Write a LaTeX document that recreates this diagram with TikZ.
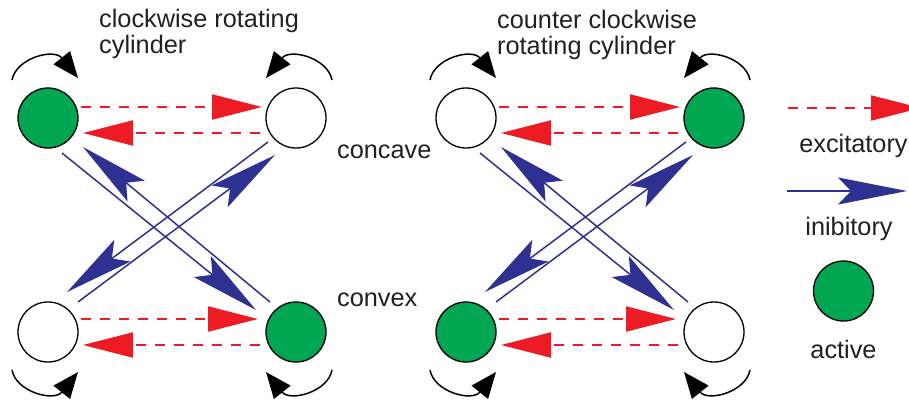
\documentclass[tikz,border=0pt]{standalone}
\usepackage{fontspec}
\setmainfont{Liberation Sans}
\usetikzlibrary{arrows.meta,calc}
\definecolor{ink}{HTML}{231F20}
\definecolor{exred}{HTML}{ED1C24}
\definecolor{inblue}{HTML}{2E3192}
\definecolor{actgreen}{HTML}{00A651}
\begin{document}
\begin{tikzpicture}[x=1pt,y=-1pt,
  cyl/.style={circle,draw=black,line width=1.3pt,minimum size=60pt,inner sep=0pt},
  act/.style={cyl,fill=actgreen},
  idle/.style={cyl,fill=white},
  exc/.style={exred,line width=2pt,dash pattern=on 10pt off 9pt,-{Triangle[length=50pt,width=25pt]}},
  inh/.style={inblue,line width=1.5pt,-{Stealth[length=69pt,width=27pt,inset=13pt]}},
  lbl/.style={inner sep=0pt,font=\fontsize{25.3}{26}\selectfont,text=ink},
  rot/.style={line width=1.5pt,-{Triangle[length=26pt,width=21pt]}},
  spin/.pic={\draw[rot] (-36,-38) .. controls (-32,-60) and (6,-70) .. (30,-40);}
]
\useasboundingbox (0,0) rectangle (909,399);
\clip (0,0) rectangle (909,399);

% ---- clockwise panel ----
\node[act]  (pTL) at (48,118) {};
\node[idle] (pTR) at (296,118) {};
\node[idle] (pBL) at (48,332) {};
\node[act]  (pBR) at (296,332) {};

\pic at (pTL) {spin};
\pic[xscale=-1] at (pTR) {spin};
\pic[yscale=-1] at (pBL) {spin};
\pic[xscale=-1,yscale=-1] at (pBR) {spin};

\draw[exc] ($(pTL)+(33,-11)$) -- ($(pTR)+(-34,-11)$);
\draw[exc] ($(pTR)+(-36,15)$) -- ($(pTL)+(35,15)$);
\draw[exc] ($(pBL)+(33,-13)$) -- ($(pBR)+(-38,-13)$);
\draw[exc] ($(pBR)+(-36,13)$) -- ($(pBL)+(35,13)$);

\draw[inh] ($(pTL)+(14,35)$) -- ($(pBR)+(-40,-22)$);
\draw[inh] ($(pBR)+(-26,-30)$) -- ($(pTL)+(35,29)$);
\draw[inh] ($(pBL)+(30,-30)$) -- ($(pTR)+(-21,37)$);
\draw[inh] ($(pTR)+(-28,24)$) -- ($(pBL)+(19,-40)$);

% ---- counter clockwise panel ----
\node[idle] (qTL) at (466,118) {};
\node[act]  (qTR) at (714,118) {};
\node[act]  (qBL) at (466,332) {};
\node[idle] (qBR) at (714,332) {};

\pic at (qTL) {spin};
\pic[xscale=-1] at (qTR) {spin};
\pic[yscale=-1] at (qBL) {spin};
\pic[xscale=-1,yscale=-1] at (qBR) {spin};

\draw[exc] ($(qTL)+(33,-11)$) -- ($(qTR)+(-34,-11)$);
\draw[exc] ($(qTR)+(-36,15)$) -- ($(qTL)+(35,15)$);
\draw[exc] ($(qBL)+(33,-13)$) -- ($(qBR)+(-38,-13)$);
\draw[exc] ($(qBR)+(-36,13)$) -- ($(qBL)+(35,13)$);

\draw[inh] ($(qTL)+(14,35)$) -- ($(qBR)+(-40,-22)$);
\draw[inh] ($(qBR)+(-26,-30)$) -- ($(qTL)+(35,29)$);
\draw[inh] ($(qBL)+(30,-30)$) -- ($(qTR)+(-21,37)$);
\draw[inh] ($(qTR)+(-28,24)$) -- ($(qBL)+(19,-40)$);

% ---- labels ----
\node[lbl,anchor=base west] (cw1) at (99,27.5) {clockwise rotating};
\node[lbl,anchor=base west] (cw2) at (99,53.5) {cylinder};
\node[lbl,anchor=base west] (ccw1) at (497,28.5) {counter clockwise};
\node[lbl,anchor=base west] (ccw2) at (497,54.5) {rotating cylinder};
\node[lbl,anchor=base west] (cc) at (337,158) {concave};
\node[lbl,anchor=base west] (cv) at (337,306.5) {convex};

% ---- key ----
\coordinate (e0) at (788,108);
\coordinate (e1) at (921,108);
\draw[exc] (e0) -- (e1);
\node[lbl,anchor=base] (ek) at (853.5,152) {excitatory};
\coordinate (i0) at (787,191);
\coordinate (i1) at (907,191);
\draw[inh] (i0) -- (i1);
\node[lbl,anchor=base] (ik) at (849,235) {inibitory};
\node[act] (ak) at (843.5,291) {};
\node[lbl,anchor=base] (akt) at (843.5,358) {active};
\end{tikzpicture}
\end{document}
